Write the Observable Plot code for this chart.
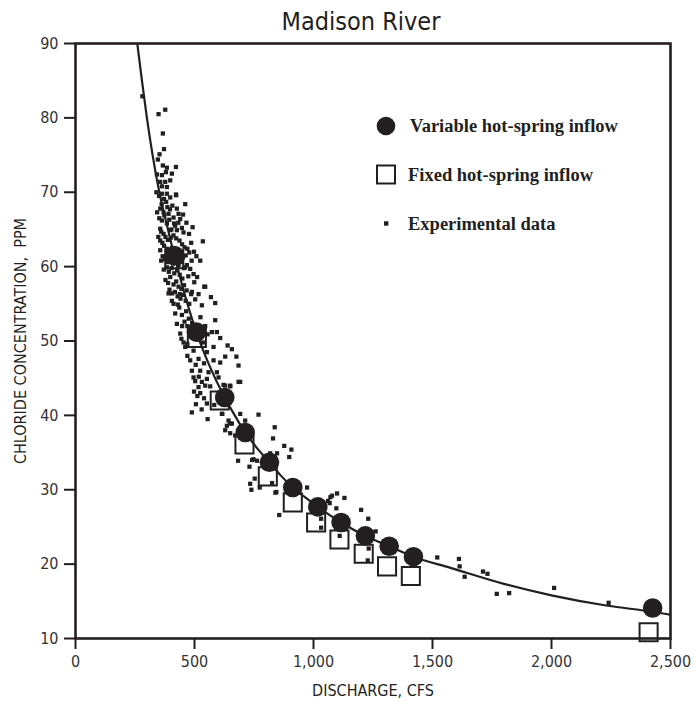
<!DOCTYPE html>
<html>
<head>
<meta charset="utf-8">
<script src="https://cdn.jsdelivr.net/npm/d3@7"></script>
<script src="https://cdn.jsdelivr.net/npm/@observablehq/plot@0.6"></script>
<style>
  html, body { margin: 0; padding: 0; background: #fff; }
  #wrap { position: relative; width: 695px; height: 704px; overflow: hidden; }
  #title {
    position: absolute; left: 0; top: 9px; width: 722px; text-align: center;
    font-family: "Liberation Sans Narrow", "DejaVu Sans Condensed", "Arial Narrow", sans-serif;
    font-size: 25px; line-height: 25px; color: #231f20;
  }
  #legend { position: absolute; left: 0; top: 0; pointer-events: none; }
</style>
</head>
<body>
<div id="wrap">
  <div id="title"></div>
</div>
<script>
// ---------- data ----------
const titleText = "Madison River";
const xLabel = "DISCHARGE, CFS";
const yLabel = "CHLORIDE CONCENTRATION,  PPM";
const xTicks = [0, 500, 1000, 1500, 2000, 2500];
const yTicks = [10, 20, 30, 40, 50, 60, 70, 80, 90];
const legendLabels = ["Variable hot-spring inflow", "Fixed hot-spring inflow", "Experimental data"];

// Variable hot-spring inflow (filled circles)
const variableQ = [415, 508, 627, 713, 815, 913, 1018, 1116, 1218, 1318, 1420, 2425];
const variableC = [61.5, 51.2, 42.4, 37.7, 33.7, 30.3, 27.7, 25.6, 23.8, 22.4, 21.0, 14.1];

// Fixed hot-spring inflow (open squares)
const fixedQ = [415, 510, 606, 710, 808, 913, 1011, 1109, 1211, 1309, 1409, 2408];
const fixedC = [61.0, 50.4, 42.0, 36.1, 31.8, 28.3, 25.6, 23.3, 21.4, 19.7, 18.4, 10.85];

// Fitted curve
const curveQ = [258, 280, 300, 348, 390, 433, 470, 508, 560, 627, 660, 713, 760, 815, 860, 913, 960, 1018, 1116, 1218, 1318, 1420, 1576, 1800, 2000, 2236, 2425, 2500];
const curveC = [90.4, 84.8, 80.0, 70.7, 64.8, 59.3, 55.0, 51.2, 46.9, 42.4, 40.5, 37.7, 35.7, 33.7, 32.0, 30.3, 29.1, 27.7, 25.6, 23.8, 22.4, 21.0, 19.5, 17.35, 15.8, 14.4, 13.6, 13.2];

// Experimental data (discharge, chloride)
const experimental = [
  [281,82.9],[349,80.5],[377,81.1],[367,77.9],[372,75.8],[353,75.1],[346,74.4],[367,73.6],[384,73.3],[422,73.4],
  [405,72.5],[380,72.7],[363,72.3],[342,72.4],[398,71.6],[377,71.4],[363,70.8],[384,70.7],[356,71.4],[363,69.8],
  [384,69.8],[422,69.7],[398,69.3],[372,69.1],[461,68.4],[381,68.7],[423,69.6],[351,69.5],[340,70.0],[362,68.4],
  [356,67.8],[370,67.3],[391,67.1],[433,67.1],[412,66.6],[440,66.4],[363,66.2],[384,65.8],[492,65.3],[356,65.1],
  [419,65.5],[398,64.9],[426,64.9],[454,64.6],[370,64.4],[535,63.4],[356,63.5],[524,60.8],[356,62.2],[360,60.8],
  [384,59.9],[398,58.6],[461,59.9],[482,59.7],[541,57.3],[499,57.9],
  [378,64.0],[388,63.6],[401,63.9],[412,64.2],[423,63.8],[437,63.5],[448,63.0],[458,62.6],[470,62.4],
  [372,62.8],[383,62.4],[394,62.0],[405,62.5],[416,61.8],[428,62.3],[440,61.6],[451,61.2],[463,61.5],
  [366,61.4],[376,61.0],[388,60.6],[399,61.1],[410,60.4],[421,60.8],[433,60.2],[444,60.6],[456,59.8],[468,60.2],
  [371,59.6],[392,59.3],[404,59.8],[415,59.1],[427,59.5],[438,58.9],[449,58.4],[474,58.7],
  [378,58.2],[389,57.8],[412,57.6],[423,58.0],[433,57.3],[445,57.0],[456,57.5],[467,56.8],[486,56.3],
  [395,56.9],[406,56.4],[418,56.6],[429,56.0],[441,55.7],[452,56.2],[463,55.4],[478,55.0],
  [403,65.0],[414,65.8],[432,65.9],[447,65.2],[394,66.3],[426,67.8],[407,68.2],[452,67.0],[466,65.9],[477,64.4],
  [486,63.2],[498,62.0],[508,61.4],[478,61.9],[488,60.8],[496,59.0],[511,58.6],
  [360,64.7],[365,63.2],[352,66.5],[373,66.9],[386,68.0],[397,67.7],[343,67.3],[348,64.0],
  [545,57.3],[569,55.9],[587,55.1],[531,54.8],[391,56.4],[405,55.4],[489,56.6],[517,56.3],[503,55.6],[419,53.7],
  [587,52.8],[426,52.3],[573,51.2],[594,51.2],[608,50.4],[440,51.0],[454,49.8],[461,49.2],[580,49.2],[639,49.4],
  [657,48.9],[496,48.7],[552,48.5],[629,47.9],[676,47.9],[482,47.4],[517,47.6],[580,47.4],[608,47.1],[489,46.0],
  [524,46.0],[559,45.8],[594,45.8],[685,46.7],[496,45.1],[552,44.9],[601,45.1],[517,43.8],[566,43.9],[629,44.0],
  [650,43.9],[685,44.5],[531,44.5],
  [436,54.5],[447,53.5],[458,52.6],[470,52.0],[480,51.2],[465,54.0],[476,53.0],[490,52.4],[500,51.0],[512,50.2],
  [445,50.3],[470,49.6],[520,50.6],[535,49.8],[545,52.0],[555,50.9],[525,53.2],[540,47.0],[505,46.8],[470,48.0],
  [448,52.0],[430,54.9],[412,55.0],[438,56.3],
  [489,40.4],[506,41.5],[555,39.5],[524,43.0],[552,41.6],[583,41.4],[617,40.2],[692,44.5],[650,38.9],[769,40.1],
  [692,40.2],[629,38.0],[650,37.6],[837,38.4],[830,36.9],[877,35.9],[907,35.4],[898,34.4],[847,34.9],[683,33.9],
  [742,34.0],[731,33.1],[753,31.5],[734,30.8],[739,30.0],[774,30.3],[826,30.9],[844,29.7],[622,44.1],[650,44.0],
  [615,40.2],[643,39.3],[636,38.6],[657,38.9],[671,37.3],[713,39.3],[763,33.9],[856,26.6],[498,43.2],[512,42.6],
  [540,42.3],[503,44.6],[530,40.8],[518,45.2],[545,44.0],[748,34.1],[818,34.9],[840,29.6],
  [973,30.3],[1099,29.5],[1071,29.0],[1061,28.5],[1078,29.2],[1130,28.9],[1068,28.2],[1096,27.5],[1032,26.1],[1032,24.9],
  [1200,27.3],[1230,26.1],[1261,24.4],[1232,22.1],[1228,20.5],[1110,23.8],[1520,20.9],[1611,20.7],[1614,19.7],[1635,18.3],
  [1712,19.0],[1731,18.7],[1770,16.0],[1822,16.1],[2011,16.8],[2240,14.8],[2404,14.6]
];

// ---------- build tables ----------
const INK = "#231f20";
const FONT = '"Liberation Sans Narrow", "DejaVu Sans Condensed", "Arial Narrow", sans-serif';
const variable = variableQ.map((q, i) => ({q, c: variableC[i]}));
const fixed = fixedQ.map((q, i) => ({q, c: fixedC[i]}));
const curve = curveQ.map((q, i) => ({q, c: curveC[i]}));
const expData = experimental.map(([q, c]) => ({q, c}));

document.getElementById("title").textContent = titleText;

const chart = Plot.plot({
  width: 695,
  height: 704,
  marginTop: 43,
  marginBottom: 66,
  marginLeft: 75,
  marginRight: 25,
  style: {fontFamily: FONT, fontSize: "16px", color: INK, background: "white", overflow: "visible"},
  x: {type: "linear", domain: [0, 2500], label: null},
  y: {type: "linear", domain: [10, 90], label: null},
  marks: [
    Plot.axisX({ticks: xTicks, tickFormat: d3.format(","), tickSize: 11, tickPadding: 6, strokeWidth: 2, stroke: INK, fill: "#333", label: null}),
    Plot.axisY({ticks: yTicks, tickSize: 11, tickPadding: 6, strokeWidth: 2, stroke: INK, fill: "#333", label: null}),
    Plot.dot(fixed, {x: "q", y: "c", symbol: "square", r: 10.2, fill: "white", stroke: INK, strokeWidth: 2}),
    Plot.dot(expData, {x: "q", y: "c", symbol: "square", r: 2.4, fill: INK, stroke: "none"}),
    Plot.line(curve, {x: "q", y: "c", curve: "monotone-x", stroke: INK, strokeWidth: 2.2, clip: true}),
    Plot.dot(variable, {x: "q", y: "c", r: 9.8, fill: INK, stroke: "none"}),
    Plot.frame({stroke: INK, strokeWidth: 2.6}),
    Plot.text([xLabel], {frameAnchor: "bottom", lineAnchor: "middle", textAnchor: "middle", dy: 52, fontSize: 16, fill: INK}),
    Plot.text([yLabel], {frameAnchor: "left", textAnchor: "middle", lineAnchor: "middle", dx: -55, rotate: -90, fontSize: 16, fill: INK})
  ]
});
document.getElementById("wrap").appendChild(chart);

// ---------- legend overlay ----------
const legend = d3.select("#wrap").append("svg")
  .attr("id", "legend").attr("width", 695).attr("height", 704);
const lg = legend.append("g")
  .attr("font-family", '"Liberation Serif", "DejaVu Serif", serif')
  .attr("font-weight", "bold").attr("font-size", 18.5).attr("fill", INK);
const rowY = [126, 174.5, 223.5];
lg.append("circle").attr("cx", 386).attr("cy", rowY[0]).attr("r", 9.3).attr("fill", INK);
lg.append("rect").attr("x", 377).attr("y", rowY[1] - 9).attr("width", 18).attr("height", 18)
  .attr("fill", "white").attr("stroke", INK).attr("stroke-width", 2);
lg.append("rect").attr("x", 384).attr("y", rowY[2] - 2.2).attr("width", 4.4).attr("height", 4.4).attr("fill", INK);
lg.selectAll("text.lab").data(legendLabels).join("text").attr("class", "lab")
  .attr("x", (d, i) => i === 0 ? 410 : 408)
  .attr("y", (d, i) => rowY[i] + 6)
  .text(d => d);
</script>
</body>
</html>
